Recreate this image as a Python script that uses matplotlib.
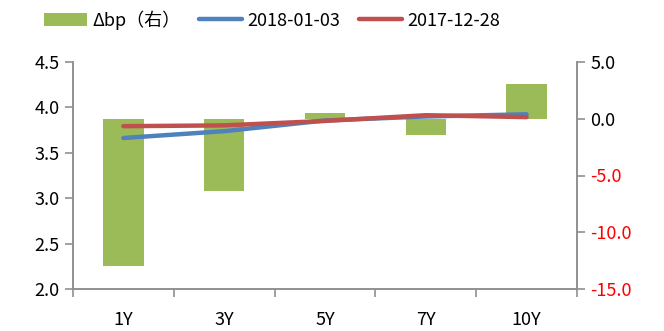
import matplotlib.pyplot as plt
from matplotlib.ticker import FixedLocator, FormatStrFormatter

plt.rcParams['font.family'] = ['Noto Sans CJK SC', 'DejaVu Sans']

# 期限与收益率
tenors = ['1Y', '3Y', '5Y', '7Y', '10Y']
y_20180103 = [3.663, 3.738, 3.856, 3.900, 3.924]
y_20171228 = [3.793, 3.802, 3.851, 3.914, 3.893]
delta_bp = [-13.0, -6.4, 0.5, -1.4, 3.1]

green = '#9BBB59'
blue = '#4F81BD'
red = '#C0504D'
grey = '#909090'

fig = plt.figure(figsize=(6.64, 3.31), dpi=100)
ax = fig.add_axes([73 / 664, 1 - 289 / 331, (577 - 73) / 664, (289 - 62) / 331])
ax2 = ax.twinx()

x = list(range(len(tenors)))

# 柱子画在右轴
ax2.bar(x, delta_bp, width=0.4, color=green, label='Δbp（右）', zorder=1)
ax2.set_ylim(-15, 5)
ax2.set_yticks([-15, -10, -5, 0, 5])
ax2.yaxis.set_major_formatter(FormatStrFormatter('%.1f'))

# 折线画在左轴，放到柱子上面
ax.set_zorder(ax2.get_zorder() + 1)
ax.patch.set_visible(False)
ax.plot(x, y_20180103, color=blue, lw=3.2, solid_capstyle='round', label='2018-01-03')
ax.plot(x, y_20171228, color=red, lw=3.2, solid_capstyle='round', label='2017-12-28')
ax.set_ylim(2.0, 4.5)
ax.set_yticks([2.0, 2.5, 3.0, 3.5, 4.0, 4.5])
ax.yaxis.set_major_formatter(FormatStrFormatter('%.1f'))
ax.set_xlim(-0.5, len(tenors) - 0.5)
ax.set_xticks(x)
ax.set_xticklabels(tenors)
ax.xaxis.set_minor_locator(FixedLocator([i - 0.5 for i in range(len(tenors) + 1)]))
ax.tick_params(axis='x', which='major', length=0, pad=16, labelsize=13)
ax.tick_params(axis='x', which='minor', length=6, color=grey, width=1.2)
ax.tick_params(axis='y', length=6, color=grey, width=1.2, labelsize=13)
ax2.tick_params(axis='y', length=6, color=grey, width=1.2, labelsize=13)

for a in (ax, ax2):
    a.spines['top'].set_visible(False)
    for s in ('left', 'right', 'bottom'):
        a.spines[s].set_color(grey)
        a.spines[s].set_linewidth(1.2)

# 负值刻度标红
for val, lab in zip(ax2.get_yticks(), ax2.get_yticklabels()):
    lab.set_color('red' if val < 0 else 'black')

handles = ax2.get_legend_handles_labels()[0] + ax.get_legend_handles_labels()[0]
labels = ['Δbp（右）', '2018-01-03', '2017-12-28']
fig.legend(handles, labels, loc='center', bbox_to_anchor=(0.41, 0.94), ncol=3,
           frameon=False, fontsize=13, handlelength=2.4, handletextpad=0.3,
           columnspacing=1.0)

fig.savefig('out.png', dpi=100)
